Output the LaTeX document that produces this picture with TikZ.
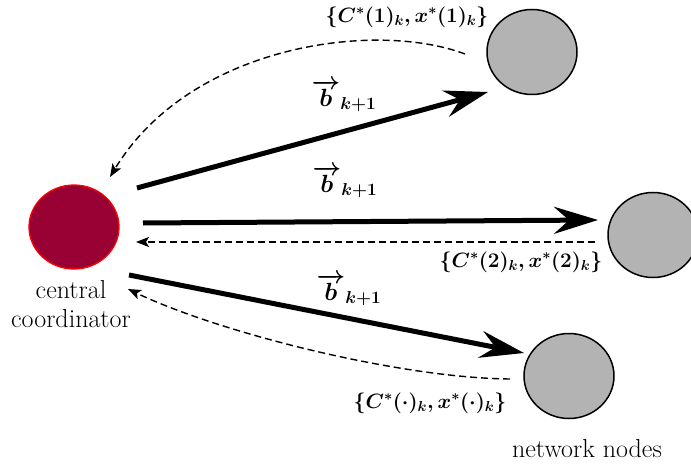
\documentclass[tikz,border=0pt]{standalone}
\usepackage{fontspec}
\usetikzlibrary{shapes.geometric,arrows.meta}
\definecolor{maroonfill}{HTML}{990033}
\definecolor{nodegray}{HTML}{B3B3B3}
\begin{document}
\begin{tikzpicture}[x=1pt,y=-1pt,
  agent/.style={ellipse,draw=black,line width=1.5pt,fill=nodegray,minimum width=90pt,minimum height=85pt,inner sep=0pt},
  coord/.style={ellipse,draw=red,line width=1.3pt,fill=maroonfill,minimum width=90pt,minimum height=84pt,inner sep=0pt},
  bigarrow/.style={line width=5pt,-{Stealth[length=44pt,width=27pt,inset=15pt]}},
  reply/.style={line width=1.4pt,dash pattern=on 7pt off 4pt,-{Stealth[length=13pt,width=10pt,inset=3pt]}},
  mathlbl/.style={inner sep=0pt,font=\fontsize{21}{25}\selectfont\boldmath},
  blbl/.style={inner sep=0pt,font=\fontsize{24}{28}\selectfont\boldmath},
  txt/.style={inner sep=0pt,font=\fontsize{26}{29}\selectfont}]
\clip (0,0) rectangle (691,468);
\fill[white] (0,0) rectangle (691,468);
% nodes
\node[coord] (cc) at (74,227) {};
\node[agent] (n1) at (532,52) {};
\node[agent] (n2) at (653,235) {};
\node[agent] (n3) at (569,376) {};
% coordinates for connector ends
\coordinate (a1s) at (137,188);
\coordinate (a1e) at (488,92);
\coordinate (a2s) at (143,223);
\coordinate (a2e) at (598,220);
\coordinate (a3s) at (129,275);
\coordinate (a3e) at (524,353);
\coordinate (d1s) at (465,54);
\coordinate (d1e) at (110,177);
\coordinate (d2s) at (595,242);
\coordinate (d2e) at (136,242);
\coordinate (d3s) at (510,379);
\coordinate (d3e) at (128,289);
% thick arrows
\draw[bigarrow] (a1s) -- (a1e);
\draw[bigarrow] (a2s) -- (a2e);
\draw[bigarrow] (a3s) -- (a3e);
% dashed replies
\draw[reply] (d1s) .. controls (375,20) and (190,45) .. (d1e);
\draw[reply] (d2s) -- (d2e);
\draw[reply] (d3s) .. controls (400,378) and (220,333) .. (d3e);
% labels
\node[blbl] (b1) at (344,96) {$\overrightarrow{b}_{k+1}$};
\node[blbl] (b2) at (345,182) {$\overrightarrow{b}_{k+1}$};
\node[blbl] (b3) at (349,290) {$\overrightarrow{b}_{k+1}$};
\node[mathlbl] (m1) at (407,17) {$\{C^*(1)_k, x^*(1)_k\}$};
\node[mathlbl] (m2) at (521,262) {$\{C^*(2)_k, x^*(2)_k\}$};
\node[mathlbl] (m3) at (430,403) {$\{C^*(\cdot)_k, x^*(\cdot)_k\}$};
\node[txt,align=center] (cclbl) at (71,304) {central\\coordinator};
\node[txt,anchor=base] (nnlbl) at (587,457) {network nodes};
\end{tikzpicture}
\end{document}
